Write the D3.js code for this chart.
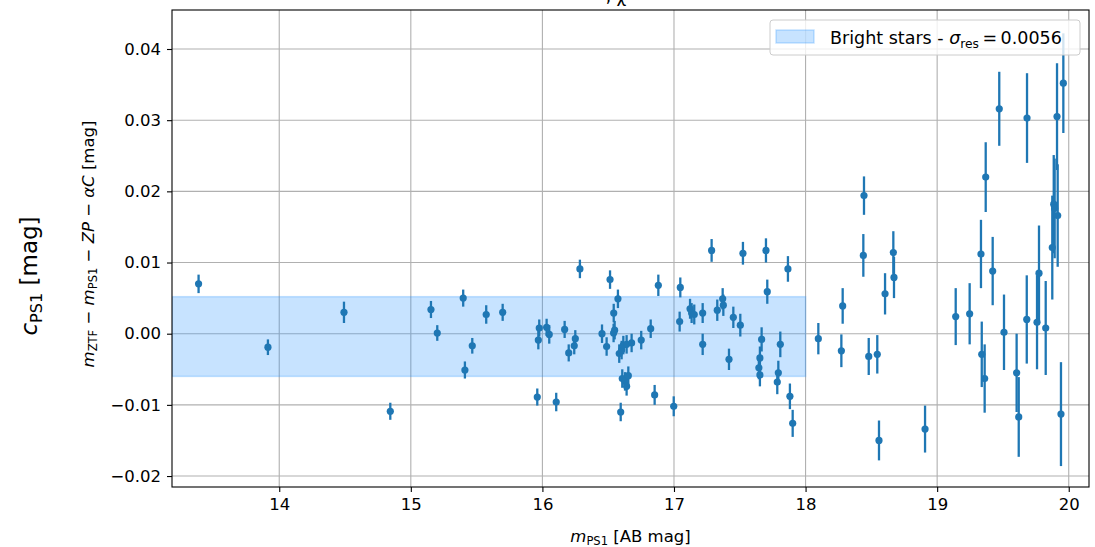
<!DOCTYPE html>
<html>
<head>
<meta charset="utf-8">
<script src="https://cdn.jsdelivr.net/npm/d3@7"></script>
<style>
  body { margin: 0; background: #fff; }
  text { font-family: "DejaVu Sans", sans-serif; fill: #000; }
</style>
</head>
<body>
<script>
// star magnitudes (PS1), residuals and their errors
var mags = [13.387, 13.914, 14.492, 14.844, 15.153, 15.201, 15.398, 15.411, 15.467, 15.573,
            15.698, 15.961, 15.969, 15.976, 16.032, 16.052, 16.105, 16.169, 16.200, 16.242,
            16.250, 16.285, 16.453, 16.488, 16.514, 16.541, 16.549, 16.542, 16.574, 16.584,
            16.595, 16.602, 16.607, 16.615, 16.628, 16.640, 16.640, 16.653, 16.678, 16.751,
            16.823, 16.853, 16.881, 16.998, 17.043, 17.048, 17.122, 17.134, 17.154, 17.218,
            17.218, 17.286, 17.329, 17.370, 17.375, 17.418, 17.451, 17.504, 17.524, 17.645,
            17.653, 17.653, 17.666, 17.699, 17.709, 17.785, 17.793, 17.808, 17.866, 17.881,
            17.902, 18.097, 18.272, 18.282, 18.439, 18.444, 18.480, 18.545, 18.558, 18.604,
            18.667, 18.672, 18.908, 19.141, 19.247, 19.333, 19.339, 19.361, 19.369, 19.422,
            19.472, 19.508, 19.604, 19.620, 19.681, 19.683, 19.759, 19.774, 19.825, 19.875,
            19.886, 19.893, 19.911, 19.916, 19.941, 19.959];
var resid = [0.0070, -0.0019, 0.0030, -0.0109, 0.0034, 0.0001, 0.0050, -0.0051, -0.0017, 0.0027,
             0.0030, -0.0089, -0.0009, 0.0008, 0.0009, -0.0001, -0.0096, 0.0006, -0.0027, -0.0017,
             -0.0007, 0.0091, 0.0000, -0.0018, 0.0076, 0.0001, 0.0005, 0.0029, 0.0049, -0.0028,
             -0.0110, -0.0023, -0.0063, -0.0016, -0.0067, -0.0074, -0.0015, -0.0059, -0.0013, -0.0009,
             0.0007, -0.0086, 0.0068, -0.0102, 0.0017, 0.0065, 0.0035, 0.0029, 0.0027, 0.0029,
             -0.0015, 0.0117, 0.0033, 0.0049, 0.0040, -0.0036, 0.0023, 0.0012, 0.0113, -0.0048,
             -0.0034, -0.0058, -0.0008, 0.0117, 0.0059, -0.0068, -0.0055, -0.0015, 0.0091, -0.0088,
             -0.0126, -0.0007, -0.0024, 0.0039, 0.0110, 0.0194, -0.0032, -0.0029, -0.0150, 0.0056,
             0.0114, 0.0079, -0.0134, 0.0024, 0.0028, 0.0112, -0.0029, -0.0063, 0.0220, 0.0088,
             0.0316, 0.0002, -0.0055, -0.0117, 0.0020, 0.0303, 0.0016, 0.0085, 0.0008, 0.0121,
             0.0182, 0.0176, 0.0305, 0.0166, -0.0113, 0.0352];
var errs = [0.0013, 0.0011, 0.0015, 0.0012, 0.0012, 0.0011, 0.0012, 0.0012, 0.0011, 0.0013,
            0.0012, 0.0012, 0.0013, 0.0012, 0.0012, 0.0013, 0.0013, 0.0012, 0.0012, 0.0012,
            0.0012, 0.0013, 0.0013, 0.0013, 0.0013, 0.0013, 0.0013, 0.0013, 0.0013, 0.0013,
            0.0013, 0.0013, 0.0013, 0.0013, 0.0013, 0.0013, 0.0013, 0.0013, 0.0013, 0.0013,
            0.0013, 0.0014, 0.0015, 0.0014, 0.0014, 0.0014, 0.0014, 0.0014, 0.0014, 0.0014,
            0.0015, 0.0016, 0.0015, 0.0015, 0.0015, 0.0015, 0.0015, 0.0016, 0.0016, 0.0016,
            0.0016, 0.0016, 0.0017, 0.0017, 0.0017, 0.0017, 0.0017, 0.0018, 0.0018, 0.0018,
            0.0019, 0.0022, 0.0023, 0.0025, 0.0030, 0.0027, 0.0026, 0.0027, 0.0028, 0.0029,
            0.0030, 0.0029, 0.0033, 0.0040, 0.0043, 0.0048, 0.0046, 0.0048, 0.0049, 0.0048,
            0.0052, 0.0053, 0.0055, 0.0056, 0.0062, 0.0063, 0.0066, 0.0067, 0.0066, 0.0073,
            0.0069, 0.0070, 0.0075, 0.0072, 0.0073, 0.0070];

// bright-star band: mean +- sigma, up to the magnitude cut
var brightCut = 18;
var bandMean = -0.0004;
var sigmaRes = 0.0056;

var xTicks = [14, 15, 16, 17, 18, 19, 20];
var yTicks = [-0.02, -0.01, 0.00, 0.01, 0.02, 0.03, 0.04];

var W = 1095, H = 547;
var margin = {top: 10, right: 6, bottom: 60, left: 172},
    width = W - margin.left - margin.right,
    height = H - margin.top - margin.bottom;

var blue = "#1f77b4";

var svg = d3.select("body").append("svg")
    .attr("width", W)
    .attr("height", H);

var g = svg.append("g")
    .attr("transform", "translate(" + margin.left + "," + margin.top + ")");

var x = d3.scaleLinear().domain([13.185, 20.154]).range([0, width]);
var y = d3.scaleLinear().domain([-0.02154, 0.04548]).range([height, 0]);

// grid
g.append("g").selectAll("line").data(xTicks).enter().append("line")
    .attr("x1", d => x(d)).attr("x2", d => x(d))
    .attr("y1", 0).attr("y2", height)
    .attr("stroke", "#b0b0b0").attr("stroke-width", 1.1);
g.append("g").selectAll("line").data(yTicks).enter().append("line")
    .attr("y1", d => y(d)).attr("y2", d => y(d))
    .attr("x1", 0).attr("x2", width)
    .attr("stroke", "#b0b0b0").attr("stroke-width", 1.1);

g.append("clipPath").attr("id", "clip")
  .append("rect").attr("width", width).attr("height", height);

var plot = g.append("g").attr("clip-path", "url(#clip)");

// shaded band
plot.append("rect")
    .attr("x", x(x.domain()[0]))
    .attr("width", x(brightCut) - x(x.domain()[0]))
    .attr("y", y(bandMean + sigmaRes))
    .attr("height", y(bandMean - sigmaRes) - y(bandMean + sigmaRes))
    .attr("fill", "#1e90ff").attr("fill-opacity", 0.25)
    .attr("stroke", "#1e90ff").attr("stroke-opacity", 0.25).attr("stroke-width", 1.5);

var pts = mags.map(function(m, i) { return {m: m, r: resid[i], e: errs[i]}; });

// error bars
plot.append("g").selectAll("line").data(pts).enter().append("line")
    .attr("x1", d => x(d.m)).attr("x2", d => x(d.m))
    .attr("y1", d => y(d.r - d.e)).attr("y2", d => y(d.r + d.e))
    .attr("stroke", blue).attr("stroke-width", 2.3);

// markers
plot.append("g").selectAll("circle").data(pts).enter().append("circle")
    .attr("cx", d => x(d.m)).attr("cy", d => y(d.r))
    .attr("r", 3.6)
    .attr("fill", blue);

// axes
var fmtY = function(d) { return d3.format(".2f")(d).replace("-", "\u2212"); };
var xAxis = g.append("g")
    .attr("transform", "translate(0," + height + ")")
    .call(d3.axisBottom(x).tickValues(xTicks).tickSize(5).tickPadding(6).tickFormat(d3.format("d")));
var yAxis = g.append("g")
    .call(d3.axisLeft(y).tickValues(yTicks).tickSize(5).tickPadding(6).tickFormat(fmtY));
[xAxis, yAxis].forEach(function(a) {
  a.select(".domain").remove();
  a.selectAll(".tick line").attr("stroke", "#000").attr("stroke-width", 1.1);
  a.selectAll("text").attr("font-family", "DejaVu Sans").attr("font-size", "16.5px").attr("fill", "#000");
});

// frame
g.append("rect")
    .attr("width", width).attr("height", height)
    .attr("fill", "none").attr("stroke", "#000").attr("stroke-width", 1.1);

// helper for labels with italics and subscripts
function mathText(sel, parts, size) {
  parts.forEach(function(p) {
    var t = sel.append("tspan").text(p.t);
    if (p.i) t.attr("font-style", "italic");
    if (p.sub) {
      t.attr("font-size", (size * 0.7) + "px").attr("dy", size * 0.2);
    } else if (p.back) {
      t.attr("dy", -size * 0.2);
    }
  });
}

// x label
var xl = svg.append("text")
    .attr("x", margin.left + width / 2).attr("y", 542)
    .attr("text-anchor", "middle").attr("font-size", "16.5px");
mathText(xl, [{t: "m", i: true}, {t: "PS1", sub: true}, {t: " [AB mag]", back: true}], 16.5);

// y label (inner)
var yl = svg.append("text")
    .attr("transform", "translate(94,244) rotate(-90)")
    .attr("text-anchor", "middle").attr("font-size", "16.5px");
mathText(yl, [
  {t: "m", i: true}, {t: "ZTF", sub: true}, {t: " \u2212 ", back: true},
  {t: "m", i: true}, {t: "PS1", sub: true}, {t: " \u2212 ", back: true},
  {t: "ZP", i: true}, {t: " \u2212 "}, {t: "\u03b1C", i: true}, {t: " [mag]"}
], 16.5);

// y label (outer)
var yl2 = svg.append("text")
    .attr("transform", "translate(37,276) rotate(-90)")
    .attr("text-anchor", "middle").attr("font-size", "23px");
mathText(yl2, [{t: "c", i: true}, {t: "PS1", sub: true}, {t: " [mag]", back: true}], 23);

// title, mostly cut off by the top edge (as in the original)
svg.append("text")
    .attr("x", 616).attr("y", 2)
    .attr("text-anchor", "middle").attr("font-size", "17px")
    .text(", \u03c7");

// legend
var lg = g.append("g").attr("transform", "translate(" + (770 - margin.left) + "," + (20 - margin.top) + ")");
lg.append("rect")
    .attr("width", 310).attr("height", 35).attr("rx", 3)
    .attr("fill", "#fff").attr("fill-opacity", 0.8)
    .attr("stroke", "#ccc").attr("stroke-width", 1);
lg.append("rect")
    .attr("x", 6).attr("y", 10).attr("width", 38).attr("height", 13)
    .attr("fill", "#1e90ff").attr("fill-opacity", 0.25)
    .attr("stroke", "#1e90ff").attr("stroke-opacity", 0.25).attr("stroke-width", 1.5);
var lt = lg.append("text")
    .attr("x", 60).attr("y", 24).attr("font-size", "17.5px");
mathText(lt, [
  {t: "Bright stars - "}, {t: "\u03c3", i: true}, {t: "res", sub: true},
  {t: "\u2009=\u20090.0056", back: true}
], 17.5);
</script>
</body>
</html>
